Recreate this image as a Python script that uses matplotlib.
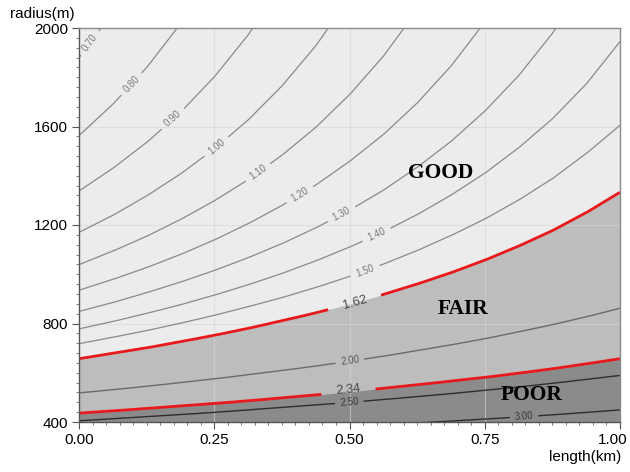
import numpy as np
import matplotlib
matplotlib.use("Agg")
import matplotlib.pyplot as plt
import matplotlib.transforms as mtransforms

# ---------------- data ----------------
length_km = [0.0, 0.0625, 0.125, 0.1875, 0.25, 0.3125, 0.375, 0.4375, 0.5,
             0.5625, 0.625, 0.6875, 0.75, 0.8125, 0.875, 0.9375, 1.0]

# radius (m) of each contour line at the lengths above (prefix of length_km)
r_070 = [1879, 2065, 2292]
r_080 = [1563, 1690, 1839, 2017]
r_090 = [1338, 1430, 1535, 1657, 1801, 1971, 2177]
r_100 = [1170, 1239, 1318, 1407, 1509, 1626, 1764, 1927, 2123]
r_110 = [1039, 1094, 1154, 1222, 1298, 1384, 1483, 1596, 1729, 1885, 2072]
r_120 = [935, 979, 1027, 1080, 1139, 1205, 1279, 1362, 1458, 1567, 1695, 1845, 2024]
r_130 = [849, 885, 925, 968, 1015, 1067, 1124, 1188, 1260, 1341, 1434, 1539,
         1662, 1806, 1978, 2185]
r_140 = [778, 808, 841, 876, 915, 957, 1003, 1054, 1110, 1172, 1242, 1321,
         1410, 1513, 1631, 1772, 1945]
r_150 = [718, 744, 771, 801, 833, 868, 905, 946, 991, 1041, 1096, 1157,
         1224, 1301, 1388, 1490, 1605]
r_162 = [657, 679, 701, 726, 752, 780, 811, 843, 879, 918, 960, 1006,
         1057, 1114, 1177, 1250, 1333]
r_200 = [518, 531, 545, 560, 575, 592, 609, 627, 647, 667, 690, 713,
         738, 766, 795, 827, 862]
r_234 = [436, 445, 455, 465, 475, 486, 498, 510, 523, 537, 551, 566,
         581, 598, 616, 636, 657]
r_250 = [405, 413, 422, 430, 439, 449, 459, 469, 480, 491, 503, 515,
         529, 542, 557, 573, 589]
length_300 = [0.625, 0.6875, 0.75, 0.8125, 0.875, 0.9375, 1.0]
r_300 = [396, 404, 412, 420, 429, 439, 449]

level_labels = ["0.70", "0.80", "0.90", "1.00", "1.10", "1.20", "1.30",
                "1.40", "1.50", "1.62", "2.00", "2.34", "2.50", "3.00"]
level_radius = [r_070, r_080, r_090, r_100, r_110, r_120, r_130,
                r_140, r_150, r_162, r_200, r_234, r_250, r_300]
level_length = [length_km[:len(r)] for r in level_radius[:-1]] + [length_300]

# where each inline label sits along its line (length, km)
label_at = [0.020, 0.097, 0.174, 0.2545, 0.331, 0.4085, 0.4856,
            0.5503, 0.5287, 0.51, 0.501, 0.498, 0.4996, 0.8226]

region_names = ["GOOD", "FAIR", "POOR"]
region_pos_length = [0.668, 0.710, 0.837]
region_pos_radius = [1410, 858, 510]

x_ticks = [0.0, 0.25, 0.5, 0.75, 1.0]
x_tick_labels = ["0.00", "0.25", "0.50", "0.75", "1.00"]
y_ticks = [400, 800, 1200, 1600, 2000]

# ---------------- styles ----------------
C_GOOD, C_FAIR, C_POOR = "#ececec", "#bdbdbd", "#8b8b8b"
RED = "#e8191b"

def style_for(lbl):
    if lbl in ("1.62", "2.34"):
        return dict(color=RED, lw=2.0), dict(color="#4a4a4a", fs=9.2), 27
    if lbl == "2.00":
        return dict(color="#6a6a6a", lw=1.0), dict(color="#5a5a5a", fs=7), 14
    if lbl in ("2.50", "3.00"):
        return dict(color="#2e2e2e", lw=1.0), dict(color="#3a3a3a", fs=7), 14
    return dict(color="#8a8a8a", lw=0.9), dict(color="#7a7a7a", fs=7), 15

fig = plt.figure(figsize=(6.30, 4.72), dpi=100)
ax = fig.add_axes([79 / 630, 1 - 422 / 472, 541 / 630, 394 / 472])
ax.set_xlim(0, 1)
ax.set_ylim(400, 2000)
ax.set_facecolor(C_GOOD)

# regions
ax.fill_between(length_km, r_162, r_234, color=C_FAIR, lw=0, zorder=1)
ax.fill_between(length_km, r_234, 0, color=C_POOR, lw=0, zorder=1)

# grid
for xv in x_ticks[1:-1]:
    ax.axvline(xv, color="#d6d6d6", lw=0.8, alpha=0.6, zorder=1.5)
for yv in y_ticks[1:-1]:
    ax.axhline(yv, color="#d6d6d6", lw=0.8, alpha=0.6, zorder=1.5)

# contour lines with gaps for labels
for lbl, Ls, Rs, lat in zip(level_labels, level_length, level_radius, label_at):
    lstyle, tstyle, half = style_for(lbl)
    Ld = np.linspace(Ls[0], Ls[-1], 800)
    Rd = np.interp(Ld, Ls, Rs)
    pts = ax.transData.transform(np.column_stack([Ld, Rd]))
    rc = np.interp(lat, Ls, Rs)
    c = ax.transData.transform((lat, rc))
    d = np.hypot(pts[:, 0] - c[0], pts[:, 1] - c[1])
    Rm = np.where(d < half, np.nan, Rd)
    ax.plot(Ld, Rm, zorder=2, solid_capstyle="butt", **lstyle)
    p1 = ax.transData.transform((lat - 0.01, np.interp(lat - 0.01, Ls, Rs)))
    p2 = ax.transData.transform((lat + 0.01, np.interp(lat + 0.01, Ls, Rs)))
    ang = np.degrees(np.arctan2(p2[1] - p1[1], p2[0] - p1[0]))
    dy = 10 if lbl == "2.34" else 0
    ax.text(lat, rc + dy, lbl, rotation=ang, rotation_mode="anchor",
            ha="center", va="center", fontsize=tstyle["fs"], color=tstyle["color"],
            family="Liberation Sans", zorder=3)

# region names
for name, lx, ry in zip(region_names, region_pos_length, region_pos_radius):
    ax.text(lx, ry, name, ha="center", va="center", fontsize=15.5,
            fontweight="bold", family="Liberation Serif", color="black", zorder=4)

# axes styling
ax.set_xticks(x_ticks)
ax.set_xticklabels(x_tick_labels)
ax.set_yticks(y_ticks)
ax.set_xticks(np.arange(0, 1.0001, 0.025), minor=True)
ax.set_yticks(np.arange(400, 2000.1, 40), minor=True)
ax.tick_params(which="major", direction="out", length=5, width=0.8, color="#555555",
               labelsize=11, pad=3)
ax.tick_params(which="minor", direction="out", length=2.5, width=0.6, color="#666666")
for lab in ax.get_xticklabels() + ax.get_yticklabels():
    lab.set_family("Liberation Sans")
last = ax.get_xticklabels()[-1]
last.set_transform(last.get_transform() +
                   mtransforms.ScaledTranslation(-7 / 100, 0, fig.dpi_scale_trans))
for s in ax.spines.values():
    s.set_color("#8a8a8a")
    s.set_linewidth(1.0)
ax.spines["left"].set_color("#555555")
ax.spines["bottom"].set_color("#555555")

fig.text(10 / 630, 1 - 14 / 472, "radius(m)", ha="left", va="center",
         fontsize=11, family="Liberation Sans")
fig.text(621 / 630, 1 - 457 / 472, "length(km)", ha="right", va="center",
         fontsize=11, family="Liberation Sans")

fig.savefig("out.png", dpi=100, facecolor="white")
